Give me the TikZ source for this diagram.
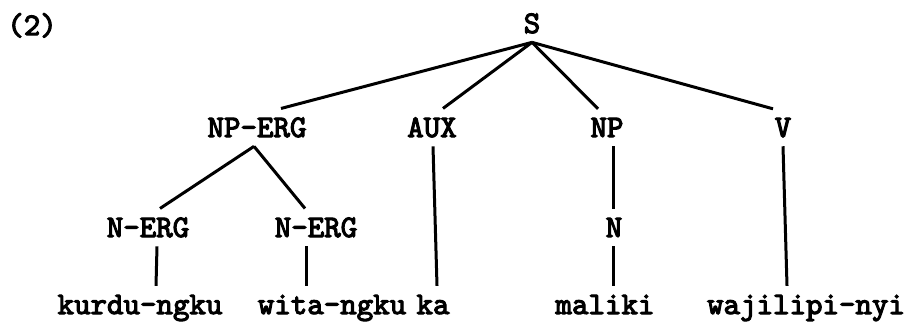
\documentclass[tikz,border=0pt]{standalone}
\usepackage{fontspec}
\newfontfamily\treefont{lmmono10-regular.otf}[FakeBold=3.5]
\tikzset{
  cat/.style={font=\treefont\fontsize{31.4}{34}\selectfont,
    inner sep=0pt, outer ysep=9pt, anchor=base},
  branch/.style={line width=3pt},
}
\begin{document}
\begin{tikzpicture}[x=1pt,y=-1pt]
  \useasboundingbox (0,0) rectangle (907,322);
  % example number and root
  \node[cat] (num) at (32,35) {(2)};
  \node[cat] (s) at (532,33) {S};
  % daughters of S
  \node[cat] (nperg) at (257,137) {NP-ERG};
  \node[cat] (aux) at (432,137) {AUX};
  \node[cat] (np) at (607,137) {NP};
  \node[cat] (v) at (783,137) {V};
  % third row
  \node[cat] (nergA) at (148,237) {N-ERG};
  \node[cat] (nergB) at (316,237) {N-ERG};
  \node[cat] (n) at (614,237) {N};
  % words
  \node[cat] (kurdu) at (140,314) {kurdu-ngku};
  \node[cat] (wita) at (332,314) {wita-ngku};
  \node[cat] (ka) at (433,314) {ka};
  \node[cat] (maliki) at (605,314) {maliki};
  \node[cat] (wajilipi) at (806,314) {wajilipi-nyi};
  % branches
  \draw[branch] (s.south) -- ([xshift=24pt]nperg.north);
  \draw[branch] (s.south) -- ([xshift=11pt]aux.north);
  \draw[branch] (s.south) -- ([xshift=-9pt]np.north);
  \draw[branch] (s.south) -- ([xshift=-10pt]v.north);
  \draw[branch] ([xshift=-3pt]nperg.south) -- ([xshift=12pt]nergA.north);
  \draw[branch] ([xshift=-3pt]nperg.south) -- ([xshift=-11pt]nergB.north);
  \draw[branch] ([xshift=9pt]nergA.south) -- ([xshift=16pt]kurdu.north);
  \draw[branch] ([xshift=-10pt]nergB.south) -- ([xshift=-26pt]wita.north);
  \draw[branch] ([xshift=1pt]aux.south) -- ([xshift=4pt]ka.north);
  \draw[branch] ([xshift=6pt]np.south) -- ([xshift=-1pt]n.north);
  \draw[branch] ([xshift=-1pt]n.south) -- ([xshift=8pt]maliki.north);
  \draw[branch] (v.south) -- ([xshift=-19pt]wajilipi.north);
\end{tikzpicture}
\end{document}
